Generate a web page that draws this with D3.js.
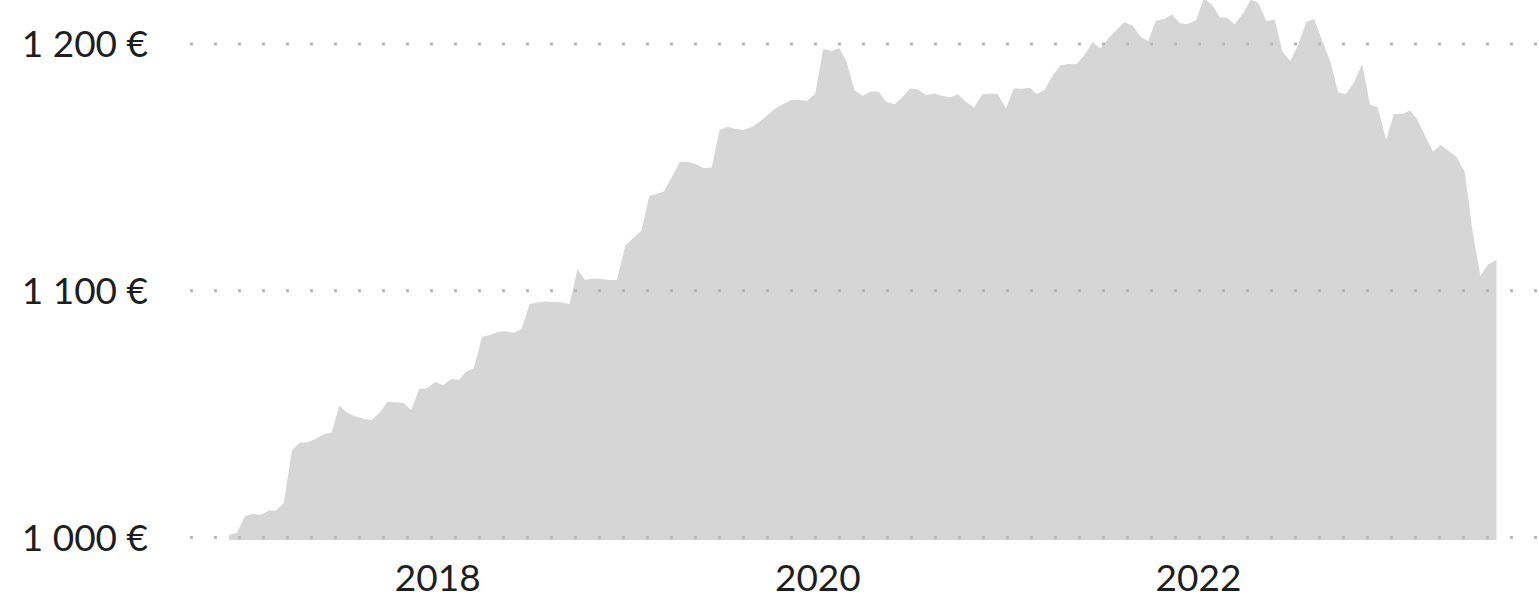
<!DOCTYPE html>
<html>
<head>
<meta charset="utf-8">
<script src="https://cdn.jsdelivr.net/npm/d3@7"></script>
<style>
  body { margin: 0; background: #fff; }
  text { font-family: Lato, "Open Sans", sans-serif; fill: #1e1e1e; }
</style>
</head>
<body>
<svg id="chart" width="1539" height="598"></svg>
<script>
// semi-monthly values (1st and 16th of each month), Dec 2016 -> Aug 2023
var firstYear = 2016, firstMonth = 11;
var values = [
  1001.0, 1001.9, 1008.7, 1009.5, 1009.2, 1010.9, 1010.9, 1013.9, 1035.5, 1038.4,
  1038.6, 1039.9, 1041.8, 1042.6, 1053.4, 1050.6, 1049.0, 1048.1, 1047.6, 1050.6,
  1054.9, 1054.8, 1054.5, 1051.7, 1060.1, 1060.5, 1063.0, 1061.7, 1064.2, 1063.8,
  1067.2, 1068.6, 1081.4, 1082.1, 1083.3, 1083.6, 1083.0, 1084.5, 1094.5, 1095.2,
  1095.6, 1095.4, 1095.3, 1094.5, 1108.7, 1104.4, 1105.0, 1104.8, 1104.4, 1104.4,
  1118.3, 1121.3, 1124.3, 1138.4, 1139.2, 1140.2, 1146.3, 1152.3, 1152.3, 1151.4,
  1149.6, 1149.9, 1165.1, 1166.5, 1165.6, 1165.1, 1166.4, 1168.5, 1171.2, 1173.9,
  1175.8, 1177.3, 1177.4, 1176.9, 1180.0, 1198.0, 1197.2, 1198.3, 1192.8, 1181.2,
  1179.0, 1180.7, 1180.7, 1176.6, 1175.6, 1178.4, 1182.0, 1181.6, 1179.2, 1179.9,
  1178.9, 1178.4, 1179.6, 1176.6, 1174.3, 1179.5, 1179.9, 1179.7, 1173.9, 1182.0,
  1181.9, 1182.3, 1179.7, 1181.4, 1187.4, 1191.4, 1191.9, 1191.8, 1195.5, 1200.8,
  1198.2, 1202.1, 1205.7, 1208.8, 1207.6, 1203.0, 1201.2, 1209.4, 1210.1, 1212.0,
  1208.4, 1208.0, 1209.7, 1218.4, 1215.9, 1210.7, 1210.7, 1208.0, 1212.4, 1218.0,
  1216.5, 1209.3, 1209.9, 1196.9, 1193.1, 1199.6, 1209.0, 1210.1, 1200.9, 1192.8,
  1180.3, 1179.7, 1184.7, 1191.9, 1175.5, 1174.3, 1161.1, 1171.6, 1171.6, 1173.1,
  1169.7, 1163.1, 1156.4, 1159.1, 1156.6, 1154.3, 1148.1, 1124.2, 1106.0, 1110.7,
  1112.5
];
var yTicks = [1000, 1100, 1200];
var yearTicks = [2018, 2020, 2022];
var baseValue = 999;

var dates = values.map(function(v, i){
  return new Date(firstYear, firstMonth + Math.floor(i / 2), i % 2 ? 16 : 1);
});
var data = values.map(function(v, i){ return {date: dates[i], value: v}; });

var width = 1539, height = 598;
var svg = d3.select("#chart");

var x = d3.scaleTime()
  .domain(d3.extent(dates))
  .range([229, 1496.5]);

var y = d3.scaleLinear()
  .domain([1000, 1200])
  .range([537.5, 44]);

var locale = d3.formatLocale({
  decimal: ",",
  thousands: "\u00a0",
  grouping: [3],
  currency: ["", "\u00a0€"]
});
var fmt = locale.format("$,");

// area
var area = d3.area()
  .x(function(d){ return x(d.date); })
  .y0(y(baseValue))
  .y1(function(d){ return y(d.value); });

svg.append("path")
  .datum(data)
  .attr("class", "area")
  .attr("d", area)
  .style("fill", "#d6d6d6");

// dotted grid, drawn over the area
var grid = svg.append("g").attr("class", "grid");
grid.selectAll("line")
  .data(yTicks)
  .enter()
  .append("line")
  .attr("x1", 190)
  .attr("x2", width)
  .attr("y1", function(d){ return y(d); })
  .attr("y2", function(d){ return y(d); })
  .style("stroke", "#b8b8b8")
  .style("stroke-width", 3)
  .style("stroke-dasharray", "3,21");

// y labels
svg.append("g").attr("class", "yLabels")
  .selectAll("text")
  .data(yTicks)
  .enter()
  .append("text")
  .attr("x", 148)
  .attr("y", function(d){ return y(d); })
  .attr("dy", "0.36em")
  .attr("text-anchor", "end")
  .style("font-size", "37px")
  .text(function(d){ return fmt(d); });

// x axis (labels only)
var xAxis = d3.axisBottom(x)
  .tickValues(yearTicks.map(function(yr){ return new Date(yr, 0, 1); }))
  .tickFormat(d3.timeFormat("%Y"))
  .tickSize(0)
  .tickPadding(0);

var gx = svg.append("g")
  .attr("class", "xAxis")
  .attr("transform", "translate(2,591)")
  .call(xAxis);
gx.select(".domain").remove();
gx.selectAll("text")
  .attr("dy", "0")
  .style("font-size", "37px")
  .style("font-family", "Lato, 'Open Sans', sans-serif")
  .style("fill", "#1e1e1e");
</script>
</body>
</html>
